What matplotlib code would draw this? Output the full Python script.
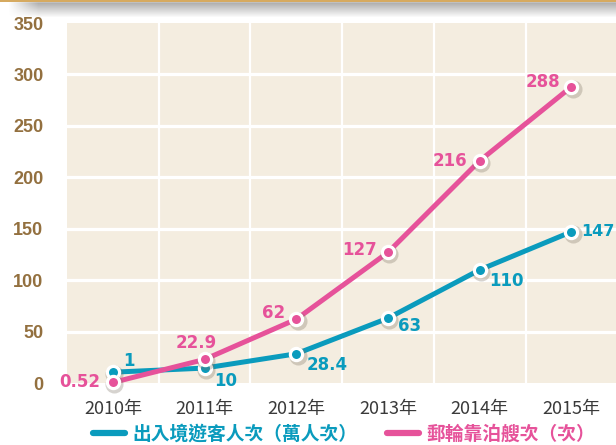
import numpy as np
import matplotlib
matplotlib.use("Agg")
import matplotlib.pyplot as plt
from matplotlib.lines import Line2D
from matplotlib.transforms import offset_copy

plt.rcParams['font.family'] = ['Noto Sans CJK TC', 'DejaVu Sans']

# data
years = ['2010年', '2011年', '2012年', '2013年', '2014年', '2015年']
visitors = [10.5, 14.5, 28.4, 63, 110, 147]        # 出入境遊客人次 (萬人次), as plotted
visitor_labels = ['1', '10', '28.4', '63', '110', '147']
cruise = [0.52, 22.9, 62, 127, 216, 288]           # 郵輪靠泊艘次 (次)
cruise_labels = ['0.52', '22.9', '62', '127', '216', '288']
yticks = [0, 50, 100, 150, 200, 250, 300, 350]

teal = '#0a9bbd'
pink = '#e6529a'
beige = '#f4ede0'
brown = '#93703f'

W, H = 616, 445
fig = plt.figure(figsize=(W / 100, H / 100), dpi=100)
fig.patch.set_facecolor('white')

# header strip: gold line with grey shadow under it
hdr = fig.add_axes([0, 1 - 18 / H, 1, 18 / H])
hdr.set_axis_off()
rows = 18
img = np.ones((rows, W, 4))
prof = np.zeros(rows)
for i in range(rows):
    if i >= 2:
        prof[i] = max(0.0, 0.55 * (1 - (i - 3) / 14.0)) if i >= 3 else 0.45
fade = np.clip((np.arange(W) - 8) / 30.0, 0, 1)
for i in range(rows):
    img[i, :, :3] = 0.45
    img[i, :, 3] = prof[i] * fade
img[0:2, :, :3] = np.array([0.84, 0.67, 0.38])
img[0:2, :, 3] = 1.0
hdr.imshow(img, aspect='auto', interpolation='bilinear')

ax = fig.add_axes([67 / W, 1 - 383 / H, (W - 67) / W + 0.002, 360 / H])
ax.set_facecolor(beige)
ax.set_xlim(-0.5, 5.5)
ax.set_ylim(0, 350)
for s in ax.spines.values():
    s.set_visible(False)

x = np.arange(len(years))
for xv in np.arange(0.5, 5.5, 1):
    ax.axvline(xv, color='white', lw=1.6, zorder=1)
for yv in yticks[1:-1]:
    ax.axhline(yv, color='white', lw=2.3, zorder=1)

ax.set_yticks(yticks)
ax.set_yticklabels([str(v) for v in yticks], color=brown, fontsize=13,
                   fontweight='bold', family='Liberation Sans')
ax.set_xticks(x)
ax.set_xticklabels(years, color='#3a3a3a', fontsize=13)
ax.tick_params(axis='y', length=0, pad=17)
ax.tick_params(axis='x', length=0, pad=12)

shadow = offset_copy(ax.transData, fig=fig, x=1.5, y=-2, units='dots')

def draw_series(vals, col, z):
    ax.plot(x, vals, color=col, lw=3.6, zorder=z, clip_on=False, solid_capstyle='round')
    ax.plot(x, vals, 'o', ms=13, color='#7a7060', alpha=0.3, mew=0,
            transform=shadow, zorder=z + 0.1, clip_on=False)
    ax.plot(x, vals, 'o', ms=8.8, mfc=col, mec='white', mew=2.3,
            zorder=z + 0.2, clip_on=False)

draw_series(visitors, teal, 3)
draw_series(cruise, pink, 4)

# data label offsets in pixels (dx, dy, ha)
vis_off = [(10, 11, 'left'), (10, -13, 'left'), (10, -11, 'left'),
           (10, -8, 'left'), (10, -11, 'left'), (10, 0, 'left')]
cru_off = [(-13, 0, 'right'), (-8, 16, 'center'), (-11, 6, 'right'),
           (-11, 2, 'right'), (-12, 0, 'right'), (-11, 5, 'right')]

for i in range(len(x)):
    dx, dy, ha = vis_off[i]
    fs = 11.5 if i == len(x) - 1 else 12
    ax.annotate(visitor_labels[i], (x[i], visitors[i]), xytext=(dx * 0.72, dy * 0.72),
                textcoords='offset points', ha=ha, va='center', color=teal,
                fontsize=fs, fontweight='bold', family='DejaVu Sans', zorder=6,
                annotation_clip=False)
    dx, dy, ha = cru_off[i]
    ax.annotate(cruise_labels[i], (x[i], cruise[i]), xytext=(dx * 0.72, dy * 0.72),
                textcoords='offset points', ha=ha, va='center', color=pink,
                fontsize=12, fontweight='bold', family='DejaVu Sans', zorder=6,
                annotation_clip=False)

handles = [Line2D([], [], color=teal, lw=4.5, solid_capstyle='round'),
           Line2D([], [], color=pink, lw=4.5, solid_capstyle='round')]
leg = fig.legend(handles, ['出入境遊客人次（萬人次）', '郵輪靠泊艘次（次）'],
                 loc='center', bbox_to_anchor=(344 / W, 1 - 434 / H), ncol=2,
                 frameon=False, handlelength=1.7, handletextpad=0.4,
                 columnspacing=1.6, borderpad=0.2,
                 prop={'family': 'Noto Sans CJK TC', 'weight': 'bold', 'size': 13.5})
for t, c in zip(leg.get_texts(), [teal, pink]):
    t.set_color(c)

fig.savefig('out.png', dpi=100)
